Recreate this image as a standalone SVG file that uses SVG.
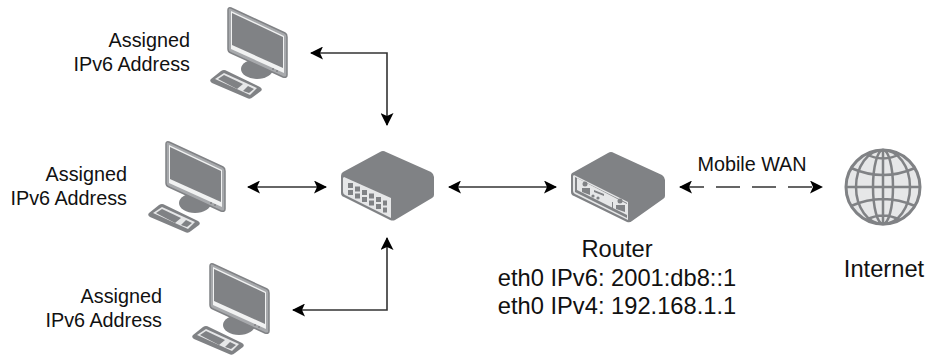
<svg xmlns="http://www.w3.org/2000/svg" width="927" height="356" viewBox="0 0 927 356">
<style>
text{font-family:"Liberation Sans",Arial,sans-serif;fill:#111}
.lbl{font-size:19.8px;text-anchor:end}
.big{font-size:23.7px;text-anchor:middle}
.c{fill:none;stroke:#333;stroke-width:1.6}
.d{fill:#808285}
.l{fill:#e6e7e8}
.o{fill:none;stroke:#808285;stroke-linejoin:round}
</style>
<defs>
<marker id="a" viewBox="0 0 13 13" refX="12" refY="6.5" markerWidth="13" markerHeight="13" markerUnits="userSpaceOnUse" orient="auto-start-reverse"><path d="M0 0 13 6.500 0 13 3 6.500Z" fill="#000"/></marker>
<g id="pc">
<ellipse class="d" cx="257" cy="69" rx="16" ry="10"/>
<path d="M231 8 285 33Q287 34 287 37V75Q287 78 283 77L231 53Q228 52 228 49V10Q228 7 231 8Z" fill="#a7a9ac" stroke="#808285" stroke-width="1.500" stroke-linejoin="round"/>
<path d="M231 11 284 36V73L231 49Z" fill="#f1f2f2"/>
<path d="M232 13 283 37V68L232 45Z" class="d"/>
<path d="M211 79 221 71Q224 69 227 71L260 87Q263 89 261 91L253 97Q250 100 247 98L212 83Q209 81 211 79Z" class="d"/>
<path d="M215 79 224 73 257 88 250 95Z" class="l"/>
<path d="M218 79 224 75 243 84 237 89Z" class="d"/>
<path d="M243 91 248 86 254 89 249 93Z" class="d"/>
<circle cx="273" cy="69" r="1" class="d"/><circle cx="277" cy="71" r="1" class="d"/>
</g>
</defs>
<g id="connectors">
<path class="c" d="M311 53H387V125" marker-start="url(#a)" marker-end="url(#a)"/>
<path class="c" d="M248 187H326" marker-start="url(#a)" marker-end="url(#a)"/>
<path class="c" d="M293 310H387V238" marker-start="url(#a)" marker-end="url(#a)"/>
<path class="c" d="M449 187H556" marker-start="url(#a)" marker-end="url(#a)"/>
<path class="c" d="M680 187H822" stroke-dasharray="24 12" marker-start="url(#a)" marker-end="url(#a)"/>
</g>
<g id="pc1"><use href="#pc"/><text class="lbl" x="190" y="47">Assigned</text><text class="lbl" x="190" y="71">IPv6 Address</text></g>
<g id="pc2"><use href="#pc" x="-62" y="134"/><text class="lbl" x="127" y="181">Assigned</text><text class="lbl" x="127" y="205">IPv6 Address</text></g>
<g id="pc3"><use href="#pc" x="-18" y="256"/><text class="lbl" x="162" y="303">Assigned</text><text class="lbl" x="162" y="327">IPv6 Address</text></g>
<g id="switch">
<path class="d" d="M343 172 380 152Q383 150 386 152L431 172Q434 174 434 177V195Q434 197 432 198L395 220Q393 221 390 220L344 197Q341 196 341 193V176Q341 173 343 172Z"/>
<path class="l" d="M344 177 391 198V218L345 195Q343 194 343 192V178Z"/>
<g class="d"><rect x="348" y="183" width="5" height="5"/><rect x="355" y="186.500" width="5" height="5"/><rect x="362" y="190" width="5" height="5"/><rect x="369" y="193.500" width="5" height="5"/><rect x="376" y="197" width="5" height="5"/><rect x="383" y="200.500" width="4" height="5"/><rect x="348" y="190" width="5" height="5"/><rect x="355" y="193.500" width="5" height="5"/><rect x="362" y="197" width="5" height="5"/><rect x="369" y="200.500" width="5" height="5"/><rect x="376" y="204" width="5" height="5"/><rect x="383" y="207.500" width="4" height="5"/></g>
</g>
<g id="router">
<path class="d" d="M574 172 608 153Q611 151 614 153L662 175Q665 177 665 180V196Q665 198 663 199L632 221Q630 223 627 222L574 196Q571 195 571 192V175Q571 173 574 172Z"/>
<path class="l" d="M574 175 628 202V220L575 194Q573 193 573 191V176Z"/>
<path class="d" d="M575 177 627 203V218L575 192Z"/>
<path class="l" d="M577 178 627 204V215L577 190Z"/>
<g class="d"><circle cx="585" cy="184" r="2.500"/><path d="M582 188H590V195L582 192Z"/><circle cx="620" cy="201" r="2.500"/><path d="M616 205H625V212L616 209Z"/><path d="M594 190 604 194V196L594 192Z"/><circle cx="593" cy="196" r="1.600"/><circle cx="598" cy="198" r="1.600"/><rect x="612" y="202" width="1" height="8"/></g>
</g>
<g id="internet">
<circle cx="883" cy="187" r="37" fill="#e6e7e8" stroke="#808285" stroke-width="3"/>
<g class="o" stroke-width="2.500">
<ellipse cx="883" cy="187" rx="10" ry="37"/>
<ellipse cx="883" cy="187" rx="27" ry="37"/>
<path d="M883 150V224M846 187H920M851 168Q883 182 915 168M851 206Q883 192 915 206M866 154Q883 163 900 154M866 220Q883 211 900 220"/>
</g>
</g>
<g id="router-label"><text class="big" x="617" y="257">Router</text><text class="big" x="617" y="286">eth0 IPv6: 2001:db8::1</text><text class="big" x="617" y="314">eth0 IPv4: 192.168.1.1</text></g>
<g id="internet-label"><text class="big" x="884" y="277">Internet</text></g>
<g id="wan-label"><text x="752" y="171" style="font-size:19.8px;text-anchor:middle">Mobile WAN</text></g>
</svg>
